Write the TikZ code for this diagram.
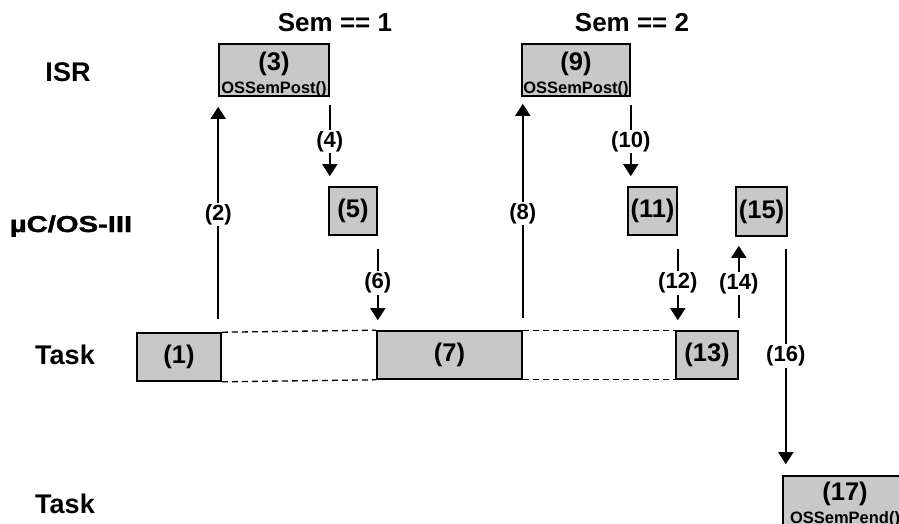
\documentclass[tikz,border=0pt]{standalone}
\usepackage{fontspec}
\setmainfont{Liberation Sans}
\newfontfamily\heavyfont{Liberation Sans Bold}[FakeBold=1.4]
\usetikzlibrary{arrows.meta}
\definecolor{boxgray}{RGB}{200,200,200}
\tikzset{
  box/.style={draw=black, fill=boxgray, line width=1.6pt, inner sep=0pt, align=center, font=\bfseries},
  big/.style={font=\bfseries\fontsize{25.5}{25.5}\selectfont},
  arr/.style={line width=1.6pt, -{Triangle[length=12pt,width=15pt]}},
  lbl/.style={fill=white, inner sep=1.5pt, font=\bfseries\fontsize{22}{22}\selectfont},
  rowlbl/.style={anchor=base, font=\bfseries\fontsize{27}{27}\selectfont},
  semlbl/.style={anchor=base, font=\bfseries\fontsize{26}{26}\selectfont},
  dsh/.style={line width=1.3pt, dash pattern=on 6pt off 4pt}
}
\newcommand{\twoline}[4]{\raisebox{#4}[\height][\depth]{\parbox{#1}{\centering\fontsize{25.5}{25.5}\selectfont #2\par\fontsize{16.5}{23}\selectfont #3}}}
\begin{document}
\begin{tikzpicture}[x=1pt,y=-1pt]
\useasboundingbox (0,0) rectangle (899,524);
% row labels
\node[rowlbl] (risr) at (68,82) {ISR};
\node[anchor=base, font=\heavyfont\fontsize{23}{23}\selectfont] (ros) at (71,232) {\scalebox{1.27}[1]{µC/OS-III}};
\node[rowlbl] (rtask) at (65,364) {Task};
\node[rowlbl] (rtask2) at (65,513) {Task};
% Sem labels
\node[semlbl] (sem1) at (335,32) {Sem == 1};
\node[semlbl] (sem2) at (632,32) {Sem == 2};
% boxes
\node[box, big, minimum width=84pt, minimum height=48pt] (b1) at (179,357) {(1)};
\node[box, minimum width=110pt, minimum height=52pt] (b3) at (274,70) {\twoline{106pt}{(3)}{OSSemPost()}{-4pt}};
\node[box, big, minimum width=48pt, minimum height=48pt] (b5) at (353,211) {(5)};
\node[box, big, minimum width=145pt, minimum height=48pt] (b7) at (449.5,355) {(7)};
\node[box, minimum width=108pt, minimum height=52pt] (b9) at (576,70) {\twoline{106pt}{(9)}{OSSemPost()}{-4pt}};
\node[box, big, minimum width=49pt, minimum height=48pt] (b11) at (652.5,211) {(11)};
\node[box, big, minimum width=62pt, minimum height=48pt] (b13) at (707,355) {(13)};
\node[box, big, minimum width=51pt, minimum height=49pt] (b15) at (761.5,211.5) {(15)};
\node[box, minimum width=124pt, minimum height=56pt] (b17) at (845,504) {\twoline{112pt}{(17)}{OSSemPend()}{0pt}};
% dashed connections in task row
\draw[dsh] (b1.north east) -- (b7.north west);
\draw[dsh] (b1.south east) -- (b7.south west);
\draw[dsh] (b7.north east) -- (b13.north west);
\draw[dsh] (b7.south east) -- (b13.south west);
% arrows
\draw[arr, shorten <=13pt, shorten >=10pt] (b3.south west |- b1.north) -- (b3.south west) node[lbl, midway] {(2)};
\draw[arr, shorten <=8pt, shorten >=10pt] (b3.south east) -- (b3.south east |- b5.north) node[lbl, midway] {(4)};
\draw[arr, shorten <=13pt, shorten >=10pt] (b5.south east) -- (b5.south east |- b7.north) node[lbl, midway] {(6)};
\draw[arr, shorten <=12pt, shorten >=7pt] (b7.north east) -- (b7.north east |- b9.south) node[lbl, midway] {(8)};
\draw[arr, shorten <=8pt, shorten >=10pt] (b9.south east) -- (b9.south east |- b11.north) node[lbl, midway] {(10)};
\draw[arr, shorten <=13pt, shorten >=10pt] (b11.south east) -- (b11.south east |- b13.north) node[lbl, midway] {(12)};
\draw[arr, shorten <=12pt, shorten >=9pt] (b13.north east) -- (b13.north east |- b15.south) node[lbl, midway] {(14)};
\draw[arr, shorten <=12pt, shorten >=11pt] ([xshift=-2pt]b15.south east) -- ([xshift=-2pt]b15.south east |- b17.north) node[lbl, midway] {(16)};
\end{tikzpicture}
\end{document}
